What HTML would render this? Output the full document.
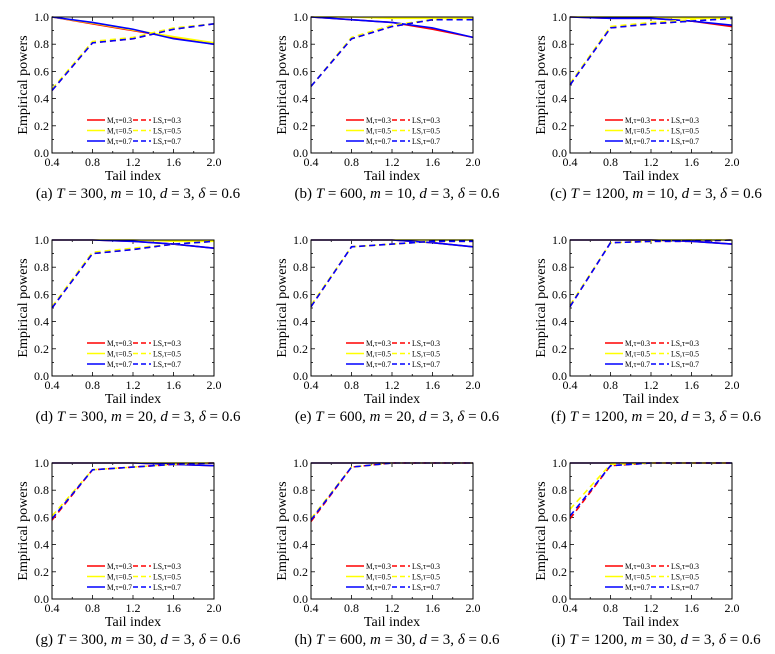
<!DOCTYPE html>
<html><head><meta charset="utf-8"><style>
body{margin:0;background:#fff;}
svg{display:block;font-family:"Liberation Serif",serif;}
</style></head><body>
<svg id="fig" width="775" height="654" viewBox="0 0 775 654"></svg>
<script>
const xCats=[0.4,0.8,1.2,1.6,2.0];
const xTicks=["0.4","0.8","1.2","1.6","2.0"];
const yTicks=["0.0","0.2","0.4","0.6","0.8","1.0"];
const captions=[
["(a)","300","10"],["(b)","600","10"],["(c)","1200","10"],
["(d)","300","20"],["(e)","600","20"],["(f)","1200","20"],
["(g)","300","30"],["(h)","600","30"],["(i)","1200","30"]];
// per panel: M0.3, M0.5, M0.7, LS0.3, LS0.5, LS0.7
const pA=[[1,0.95,0.90,0.85,0.80],[1,0.955,0.905,0.855,0.81],[1,0.96,0.91,0.84,0.80],[0.46,0.81,0.84,0.91,0.95],[0.47,0.82,0.85,0.92,0.95],[0.46,0.81,0.84,0.91,0.95]];
const pB=[[1,0.98,0.96,0.91,0.85],[1,1,0.99,0.99,0.99],[1,0.98,0.96,0.92,0.85],[0.49,0.84,0.93,0.98,0.98],[0.49,0.85,0.94,0.98,0.99],[0.49,0.84,0.93,0.98,0.98]];
const pC=[[1,0.99,0.99,0.97,0.93],[1,1,1,0.99,0.99],[1,0.99,0.99,0.97,0.94],[0.50,0.92,0.95,0.97,0.99],[0.51,0.93,0.96,0.98,0.99],[0.50,0.92,0.95,0.97,0.99]];
const pD=[[1,1,0.99,0.97,0.94],[1,1,1,0.99,0.99],[1,1,0.99,0.97,0.94],[0.50,0.90,0.93,0.97,0.99],[0.51,0.91,0.94,0.97,0.99],[0.50,0.90,0.93,0.97,0.99]];
const pE=[[1,1,1,0.98,0.95],[1,1,1,1,1],[1,1,1,0.98,0.95],[0.51,0.95,0.97,0.99,0.99],[0.52,0.95,0.97,0.99,1],[0.51,0.95,0.97,0.99,0.99]];
const pF=[[1,1,1,0.99,0.97],[1,1,1,1,1],[1,1,1,0.99,0.97],[0.51,0.98,0.99,0.99,1],[0.52,0.98,0.99,1,1],[0.51,0.98,0.99,0.99,1]];
const pG=[[1,1,1,0.99,0.98],[1,1,1,1,1],[1,1,1,0.99,0.98],[0.58,0.95,0.97,0.99,1],[0.61,0.95,0.97,0.99,1],[0.59,0.95,0.97,0.99,1]];
const pH=[[1,1,1,1,1],[1,1,1,1,1],[1,1,1,1,1],[0.57,0.97,1,1,1],[0.59,0.97,1,1,1],[0.58,0.97,1,1,1]];
const pI=[[1,1,1,1,1],[1,1,1,1,1],[1,1,1,1,1],[0.59,0.98,1,1,1],[0.66,0.99,1,1,1],[0.61,0.98,1,1,1]];
const panels=[pA,pB,pC,pD,pE,pF,pG,pH,pI];
const colors=["#ff0000","#ffff00","#0000ff","#ff0000","#ffff00","#0000ff"];
const legendLabels=["M,τ=0.3","M,τ=0.5","M,τ=0.7","LS,τ=0.3","LS,τ=0.5","LS,τ=0.7"];
const NS="http://www.w3.org/2000/svg";
const svg=document.getElementById('fig');
function mk(t,a,p){const e=document.createElementNS(NS,t);for(const k in a)e.setAttribute(k,a[k]);(p||svg).appendChild(e);return e;}
const colX=[52,311,570], rowY=[17,240,463], W=162, H=136;
panels.forEach((data,i)=>{
  const x0=colX[i%3], y0=rowY[Math.floor(i/3)];
  const g=mk('g',{});
  
  
  const sx=v=>x0+(v-0.4)/1.6*W, sy=v=>y0+H-v*H;
  for(let k=0;k<=8;k++){const xx=x0+k*W/8;const L=k%2?2:4;
    mk('line',{x1:xx,x2:xx,y1:y0+H,y2:y0+H-L,stroke:'#000','stroke-width':0.8},g);
    mk('line',{x1:xx,x2:xx,y1:y0,y2:y0+L,stroke:'#000','stroke-width':0.8},g);}
  for(let k=0;k<=10;k++){const yy=y0+k*H/10;const L=k%2?2:4;
    mk('line',{x1:x0,x2:x0+L,y1:yy,y2:yy,stroke:'#000','stroke-width':0.8},g);
    mk('line',{x1:x0+W,x2:x0+W-L,y1:yy,y2:yy,stroke:'#000','stroke-width':0.8},g);}
  xTicks.forEach((t,k)=>{const e=mk('text',{x:sx(xCats[k]),y:y0+H+13,'text-anchor':'middle','font-size':12},g);e.textContent=t;
    });
  yTicks.forEach((t,k)=>{const e=mk('text',{x:x0-3,y:sy(k*0.2)+4,'text-anchor':'end','font-size':12},g);e.textContent=t;
    });
  const xt=mk('text',{x:x0+W/2,y:y0+H+27,'text-anchor':'middle','font-size':14},g);xt.textContent='Tail index';
  
  const yt=mk('text',{x:0,y:0,'text-anchor':'middle','font-size':14,transform:`translate(${x0-25},${y0+H/2}) rotate(-90)`},g);yt.textContent='Empirical powers';
  
  data.forEach((s,j)=>{
    const pts=s.map((v,k)=>sx(xCats[k])+','+sy(v)).join(' ');
    const a={points:pts,fill:'none',stroke:colors[j],'stroke-width':1.6};
    if(j>=3)a['stroke-dasharray']='6,4';
    const pl=mk('polyline',a,g);
    
    
  });
  for(let j=0;j<6;j++){const c=j%3,col=Math.floor(j/3);
    const lx=x0+35+col*46, ly=y0+103+c*10.5;
    const a={x1:lx,x2:lx+18,y1:ly,y2:ly,stroke:colors[j],'stroke-width':1.6};
    if(col)a['stroke-dasharray']='5,3';
    const l=mk('line',a,g);
    const t=mk('text',{x:lx+20,y:ly+3,'font-size':8,textLength:col?28:25,lengthAdjust:'spacingAndGlyphs'},g);t.textContent=legendLabels[j];
    }
  mk('rect',{x:x0,y:y0,width:W,height:H,fill:'none',stroke:'#000','stroke-width':1},g);
  const cp=captions[i];
  const ct=mk('text',{x:x0+W/2+5,y:y0+H+45,'text-anchor':'middle','font-size':15},g);
  ct.innerHTML=`${cp[0]} <tspan font-style="italic">T</tspan> = ${cp[1]}, <tspan font-style="italic">m</tspan> = ${cp[2]}, <tspan font-style="italic">d</tspan> = 3, <tspan font-style="italic">δ</tspan> = 0.6`;
  
});
</script>
</body></html>
